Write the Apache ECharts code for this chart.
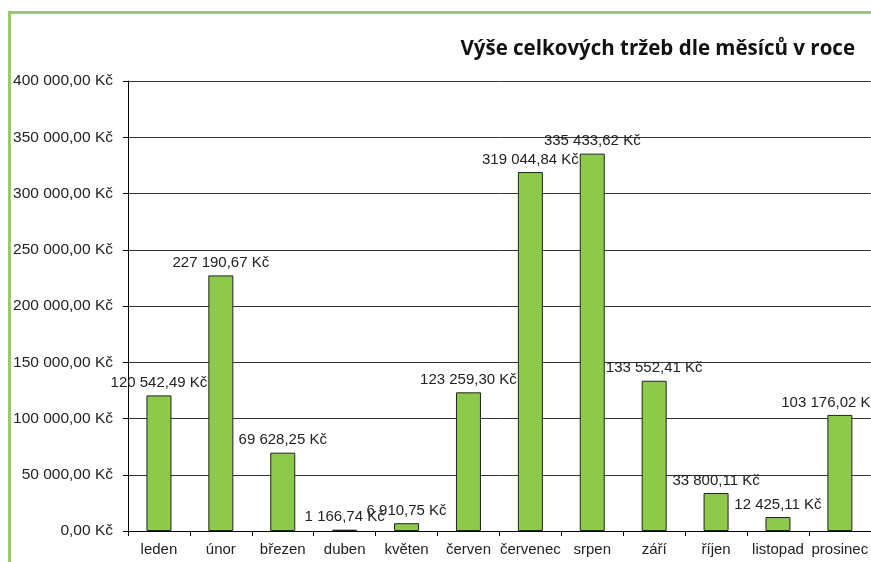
<!DOCTYPE html>
<html>
<head>
<meta charset="utf-8">
<script src="https://cdn.jsdelivr.net/npm/echarts@6/dist/echarts.min.js"></script>
<style>
  html, body { margin: 0; padding: 0; background: #fff; }
  #chart { width: 871px; height: 562px; }
</style>
</head>
<body>
<div id="chart"></div>
<script>
// měsíce a tržby
const months = ['leden', 'únor', 'březen', 'duben', 'květen', 'červen', 'červenec', 'srpen', 'září', 'říjen', 'listopad', 'prosinec'];
const revenue = [120542.49, 227190.67, 69628.25, 1166.74, 6910.75, 123259.30, 319044.84, 335433.62, 133552.41, 33800.11, 12425.11, 103176.02];
const titleText = 'Výše celkových tržeb dle měsíců v roce';

function formatKc(v) {
  const parts = v.toFixed(2).split('.');
  const whole = parts[0].replace(/\B(?=(\d{3})+(?!\d))/g, ' ');
  return whole + ',' + parts[1] + ' Kč';
}

const chart = echarts.init(document.getElementById('chart'));
chart.setOption({
  animation: false,
  backgroundColor: '#fff',
  graphic: [{
    type: 'rect',
    silent: true,
    shape: { x: 9.5, y: 12.5, width: 1200, height: 1200 },
    style: { fill: 'none', stroke: '#9cca6a', lineWidth: 3 }
  }],
  title: {
    text: titleText,
    right: 11,
    top: 34,
    textStyle: { fontFamily: 'Open Sans', fontWeight: 'bold', fontSize: 20.5, color: '#111' }
  },
  grid: { left: 128, top: 81, width: 748, height: 450 },
  xAxis: {
    type: 'category',
    data: months,
    axisLine: { lineStyle: { color: '#000', width: 1 } },
    axisTick: { show: true, length: 5, lineStyle: { color: '#000' } },
    axisLabel: { color: '#222', fontFamily: 'Liberation Sans', fontSize: 15, margin: 11, interval: 0 }
  },
  yAxis: {
    type: 'value',
    min: 0,
    max: 400000,
    interval: 50000,
    axisLine: { show: true, lineStyle: { color: '#000', width: 1 } },
    axisTick: { show: true, length: 5, lineStyle: { color: '#000' } },
    axisLabel: { color: '#222', fontFamily: 'Liberation Sans', fontSize: 15.5, margin: 15, formatter: formatKc },
    splitLine: { lineStyle: { color: '#333', width: 1 } }
  },
  series: [{
    type: 'bar',
    data: revenue,
    barWidth: 25,
    itemStyle: { color: '#8dc94a', borderColor: '#222', borderWidth: 1 },
    label: {
      show: true,
      position: 'top',
      distance: 5,
      color: '#222',
      fontFamily: 'Liberation Sans',
      fontSize: 15,
      formatter: p => formatKc(p.value)
    },
    // like Excel: keep labels inside the (wider) chart area
    labelLayout: p => {
      const over = p.labelRect.x + p.labelRect.width - 878;
      return over > 0 ? { dx: -over } : {};
    }
  }]
});
</script>
</body>
</html>
